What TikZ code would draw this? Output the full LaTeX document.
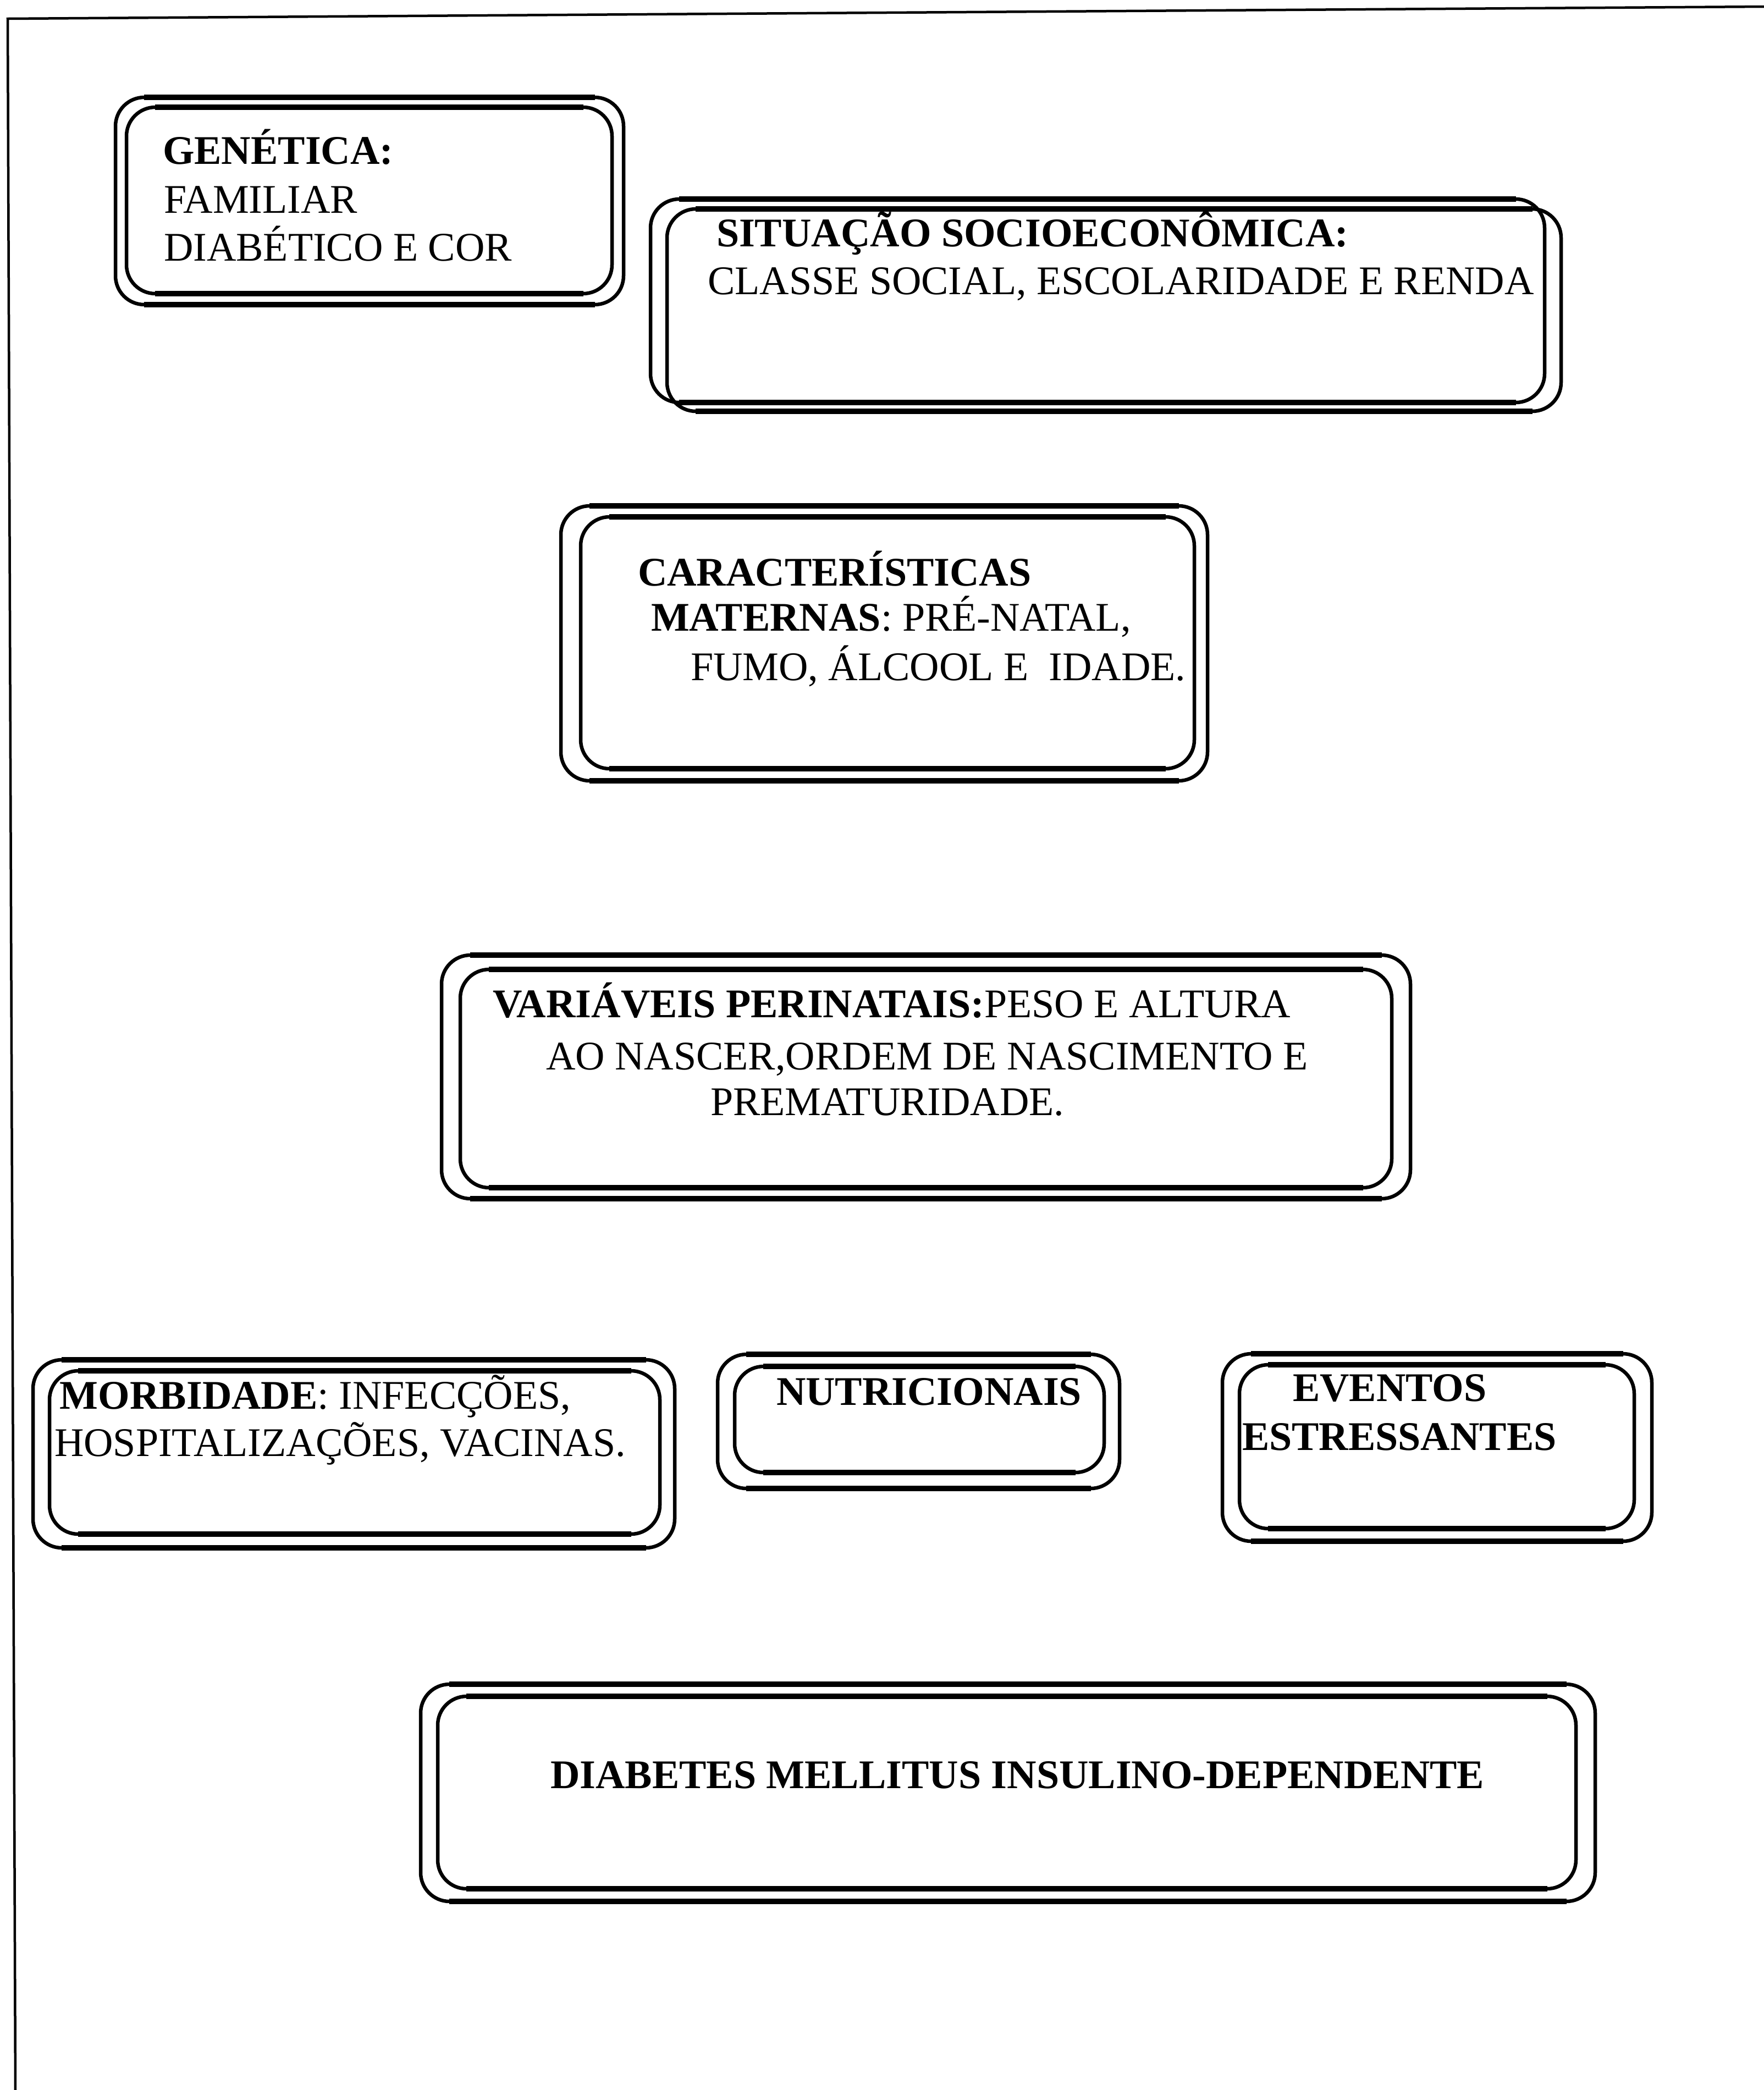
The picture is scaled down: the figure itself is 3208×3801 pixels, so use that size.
\documentclass[tikz,border=0pt]{standalone}
\usepackage{fontspec}
\setmainfont{Liberation Serif}
\tikzset{
  frameline/.style={line width=0.9pt},
  boxline/.style={line width=1.3pt, rounded corners=10.5pt},
  hline/.style={line width=1.9pt},
  txt/.style={anchor=base west, inner sep=0pt, font=\fontsize{14.8pt}{17.6pt}\selectfont},
}
\newcommand\dblbox[8]{%
  \draw[boxline] (#1,#2) rectangle (#3,#4);
  \draw[boxline] (#5,#6) rectangle (#7,#8);
  \draw[hline] (#1+52,#2) -- (#3-52,#2);
  \draw[hline] (#1+52,#4) -- (#3-52,#4);
  \draw[hline] (#5+52,#6) -- (#7-52,#6);
  \draw[hline] (#5+52,#8) -- (#7-52,#8);
}
\begin{document}
\begin{tikzpicture}[x=0.2pt, y=-0.2pt]
  \useasboundingbox (0,0) rectangle (3208,3801);
  % page frame (top and left edges)
  \coordinate (ftr) at (3208,12);
  \coordinate (ftl) at (14,34);
  \coordinate (fbl) at (28,3801);
  \draw[frameline] (ftr) -- (ftl) -- (fbl);

  % boxes
  \dblbox{210}{177}{1134}{554}{230}{195}{1113}{534}
  \dblbox{1183}{362}{2809}{732}{1213}{380}{2839}{748}
  \dblbox{1020}{920}{2196}{1420}{1056}{940}{2172}{1398}
  \dblbox{803}{1737}{2565}{2180}{837}{1763}{2531}{2160}
  \dblbox{60}{2473}{1227}{2815}{90}{2493}{1200}{2790}
  \dblbox{1305}{2463}{2036}{2707}{1336}{2485}{2008}{2678}
  \dblbox{2223}{2462}{3004}{2803}{2254}{2482}{2972}{2780}
  \dblbox{765}{3063}{2901}{3458}{796}{3085}{2866}{3435}

  % texts
  \node[txt] (g1) at (295,298) {\textbf{GENÉTICA:}};
  \node[txt] (g2) at (297,387) {FAMILIAR};
  \node[txt] (g3) at (297,474) {DIABÉTICO E COR};

  \node[txt] (s1) at (1302,448) {\textbf{SITUAÇÃO SOCIOECONÔMICA:}};
  \node[txt] (s2) at (1286,535) {CLASSE SOCIAL, ESCOLARIDADE E RENDA};

  \node[txt] (c1) at (1159,1065) {\textbf{CARACTERÍSTICAS}};
  \node[txt] (c2) at (1183,1147) {\textbf{MATERNAS}: PRÉ-NATAL,};
  \node[txt] (c3) at (1255,1237) {FUMO, ÁLCOOL E~~IDADE.};

  \node[txt] (v1) at (895,1850) {\textbf{VARIÁVEIS PERINATAIS:}PESO E ALTURA};
  \node[txt] (v2) at (992,1945) {AO NASCER,ORDEM DE NASCIMENTO E};
  \node[txt] (v3) at (1291,2028) {PREMATURIDADE.};

  \node[txt] (m1) at (108,2562) {\textbf{MORBIDADE}: INFECÇÕES,};
  \node[txt] (m2) at (98,2648) {HOSPITALIZAÇÕES, VACINAS.};

  \node[txt] (n1) at (1411,2555) {\textbf{NUTRICIONAIS}};

  \node[txt] (e1) at (2350,2548) {\textbf{EVENTOS}};
  \node[txt] (e2) at (2258,2637) {\textbf{ESTRESSANTES}};

  \node[txt] (d1) at (1000,3252) {\textbf{DIABETES MELLITUS INSULINO-DEPENDENTE}};
\end{tikzpicture}
\end{document}
